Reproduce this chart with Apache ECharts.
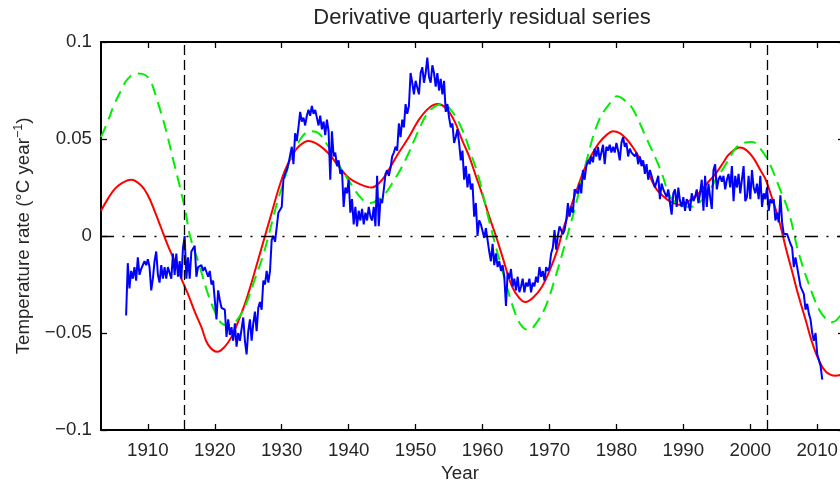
<!DOCTYPE html>
<html>
<head>
<meta charset="utf-8">
<script src="https://cdn.jsdelivr.net/npm/echarts@6/dist/echarts.min.js"></script>
<style>
  html, body { margin: 0; padding: 0; background: #fff; overflow: hidden; }
  #chart { width: 850px; height: 484px; }
</style>
</head>
<body>
<div id="chart"></div>
<script>
// Axis ticks
const xTickYears = [1910, 1920, 1930, 1940, 1950, 1960, 1970, 1980, 1990, 2000, 2010];
const yTickValues = [-0.1, -0.05, 0, 0.05, 0.1];
const yTickLabels = ['\u22120.1', '\u22120.05', '0', '0.05', '0.1'];

// Smooth model fit (red)
const fitYears = [1903, 1904, 1905, 1906, 1907.5, 1909, 1910, 1911, 1912, 1913, 1914, 1915, 1916, 1917, 1918, 1919,
  1920.4, 1921.5, 1922.5, 1923.5, 1924.5, 1925.5, 1926.5, 1927.5, 1928.5, 1929.5, 1930.5, 1931.5, 1932.5, 1934,
  1935.5, 1937, 1938.5, 1940, 1941.5, 1943.4, 1945, 1946.3, 1947.5, 1949, 1950.5, 1952, 1953.3, 1954.5, 1955.7,
  1957, 1958, 1959, 1960, 1961, 1962, 1963, 1964.4, 1965.5, 1966.4, 1967.5, 1968.9, 1970, 1971.2, 1972, 1973.1,
  1974.2, 1975.4, 1976.5, 1977.4, 1978.5, 1979.5, 1980.5, 1981.5, 1982.4, 1983.5, 1984.8, 1986, 1987.5, 1988.5,
  1989.6, 1990.8, 1992.3, 1993.5, 1994.8, 1996, 1996.8, 1998.5, 1999.5, 2000.5, 2001.5, 2002.3, 2003.3, 2004.3,
  2005.3, 2006.3, 2007.3, 2008.25, 2009.25, 2010.25, 2011.3, 2012.7, 2014];
const fitValues = [0.013, 0.019, 0.024, 0.027, 0.029, 0.026, 0.021, 0.013, 0.004, -0.005, -0.013, -0.022, -0.030, -0.039, -0.047, -0.056,
  -0.0597, -0.057, -0.052, -0.044, -0.035, -0.024, -0.012, 0.000, 0.012, 0.024, 0.034, 0.041, 0.046, 0.049,
  0.047, 0.0425, 0.036, 0.030, 0.027, 0.025, 0.029, 0.036, 0.043, 0.051, 0.060, 0.066, 0.068, 0.066, 0.060,
  0.049, 0.041, 0.031, 0.021, 0.010, 0.000, -0.011, -0.026, -0.032, -0.034, -0.032, -0.026, -0.018, -0.007, 0.003, 0.014,
  0.025, 0.036, 0.043, 0.048, 0.052, 0.054, 0.053, 0.050, 0.046, 0.040, 0.032, 0.024, 0.019, 0.017,
  0.016, 0.018, 0.022, 0.027, 0.032, 0.038, 0.042, 0.0456, 0.044, 0.040, 0.034, 0.029, 0.019, 0.008,
  -0.006, -0.019, -0.032, -0.043, -0.055, -0.064, -0.070, -0.072, -0.071];

// Alternative fit (green dashed)
const altYears = [1903, 1904, 1905, 1906, 1907, 1908.4, 1909.6, 1910.5, 1911.3, 1912.1, 1912.9, 1913.8, 1914.6, 1915.6, 1916.3,
  1917.6, 1918.8, 1920, 1921, 1921.9, 1922.8, 1923.8, 1924.8, 1925.8, 1927.3, 1929.3, 1930.3, 1931.3, 1932.8, 1934.3,
  1935.5, 1937, 1938, 1939, 1940.5, 1942, 1943.3, 1944.5, 1945.5, 1946.3, 1947.7, 1949, 1950, 1951.7, 1953, 1954,
  1955.5, 1957, 1958.2, 1959.45, 1960.9, 1962.9, 1964.9, 1966, 1966.9, 1968, 1969.4, 1970.9, 1972.65, 1974, 1975.4,
  1977.4, 1979.4, 1980.1, 1981.2, 1982.4, 1984.4, 1986.6, 1988.1, 1989.5, 1991, 1992.8, 1994, 1995, 1996, 1997.2,
  1998, 1999, 2000.3, 2001.5, 2002.8, 2004.3, 2005.8, 2007.25, 2009.25, 2010.3, 2011.25, 2012.2, 2013, 2014];
const altValues = [0.051, 0.059, 0.068, 0.075, 0.081, 0.0838, 0.083, 0.079, 0.071, 0.062, 0.052, 0.039, 0.028, 0.013, 0.000,
  -0.014, -0.028, -0.039, -0.045, -0.046, -0.045, -0.041, -0.034, -0.024, -0.009, 0.017, 0.028, 0.039, 0.050, 0.054,
  0.053, 0.046, 0.040, 0.034, 0.026, 0.019, 0.017, 0.019, 0.022, 0.026, 0.034, 0.043, 0.051, 0.063, 0.067, 0.068,
  0.064, 0.0545, 0.043, 0.030, 0.009, -0.017, -0.040, -0.047, -0.0485, -0.045, -0.0365, -0.021, 0.000, 0.017, 0.037,
  0.0597, 0.070, 0.072, 0.070, 0.0657, 0.051, 0.034, 0.020, 0.016, 0.015, 0.0185, 0.024, 0.030, 0.035, 0.042,
  0.046, 0.048, 0.0485, 0.045, 0.038, 0.0253, 0.0116, -0.009, -0.0296, -0.038, -0.0425, -0.0445, -0.043, -0.038];

// Quarterly residual derivative (blue), first quarter 1906.75
const residualStart = 1906.75;
const quarterStep = 0.25;
const residualValues = [
  -0.041, -0.014, -0.027, -0.018, -0.022, -0.016, -0.023, -0.011, -0.020, -0.017, -0.018, -0.013,
  -0.015, -0.012, -0.016, -0.028, -0.022, -0.013, -0.008, -0.020, -0.024, -0.015, -0.022, -0.016,
  -0.022, -0.016, -0.016, -0.022, -0.009, -0.020, -0.009, -0.021, -0.013, -0.022, -0.006, 0.000,
  -0.022, -0.011, -0.022, -0.008,
  -0.009, -0.005, -0.021, -0.016, -0.015, -0.015, -0.018, -0.016, -0.015, -0.021, -0.018, -0.025,
  -0.023, -0.024, -0.043, -0.028, -0.033, -0.037, -0.036, -0.038, -0.052, -0.043, -0.051, -0.047,
  -0.054, -0.045, -0.057, -0.050, -0.054, -0.055, -0.042, -0.054, -0.061, -0.049, -0.043, -0.054,
  -0.045, -0.039, -0.049, -0.037, -0.034, -0.038, -0.023, -0.025, -0.018, -0.024, -0.018, -0.002,
  0.000, -0.003, -0.002, 0.012, 0.013, 0.015, 0.029, 0.032, 0.034, 0.037, 0.036, 0.046,
  0.037, 0.053,
  0.049, 0.056, 0.064, 0.059, 0.061, 0.057, 0.062, 0.065, 0.062, 0.067, 0.063, 0.065,
  0.064, 0.057, 0.062, 0.055, 0.059, 0.052, 0.060, 0.054, 0.029, 0.054, 0.041, 0.043,
  0.036, 0.039, 0.032, 0.034, 0.015, 0.025, 0.022, 0.029, 0.012, 0.019, 0.006, 0.015,
  0.005, 0.013, 0.008, 0.014, 0.006, 0.012, 0.008, 0.015, 0.010, 0.008, 0.015, 0.005,
  0.031, 0.005, 0.019, 0.017, 0.024, 0.032, 0.034, 0.031, 0.035,
  0.041, 0.043, 0.046, 0.044, 0.058, 0.051, 0.060, 0.056, 0.068, 0.063, 0.067, 0.084,
  0.079, 0.073, 0.080, 0.079, 0.073, 0.084, 0.087, 0.079, 0.084, 0.092, 0.082, 0.079,
  0.088, 0.084, 0.077, 0.084, 0.075, 0.081, 0.073, 0.080, 0.064, 0.068, 0.061, 0.056,
  0.058, 0.048, 0.051, 0.055, 0.048, 0.039, 0.044, 0.029, 0.036, 0.025, 0.032, 0.024,
  0.027, 0.010, 0.017, 0.000, 0.008, 0.006,
  0.006, -0.001, 0.004, -0.002, -0.008, -0.013, -0.004, -0.015, -0.009, -0.016, -0.013, -0.018,
  -0.015, -0.021, -0.036, -0.019, -0.022, -0.017, -0.026, -0.022, -0.028, -0.021, -0.029, -0.026,
  -0.022, -0.029, -0.024, -0.026, -0.022, -0.029, -0.024, -0.026, -0.021, -0.024, -0.016, -0.021,
  -0.018, -0.023, -0.016, -0.018, -0.016, -0.009, -0.006, 0.003, -0.007, 0.000, 0.005, 0.005,
  0.001, 0.003,
  0.008, 0.017, 0.010, 0.015, 0.012, 0.024, 0.025, 0.022, 0.027, 0.022, 0.034, 0.029,
  0.036, 0.039, 0.037, 0.041, 0.038, 0.045, 0.041, 0.046, 0.039, 0.043, 0.047, 0.037,
  0.046, 0.044, 0.047, 0.043, 0.046, 0.043, 0.048, 0.044, 0.039, 0.048, 0.051, 0.046,
  0.048, 0.041, 0.045, 0.043, 0.044, 0.041, 0.043, 0.037, 0.041, 0.036, 0.039, 0.032,
  0.037, 0.029, 0.034, 0.031, 0.032, 0.025,
  0.024, 0.031, 0.019, 0.027, 0.024, 0.025, 0.020, 0.024, 0.017, 0.011, 0.022, 0.024,
  0.015, 0.025, 0.018, 0.015, 0.020, 0.013, 0.019, 0.017, 0.013, 0.022, 0.018, 0.020,
  0.024, 0.017, 0.022, 0.029, 0.013, 0.031, 0.015, 0.027, 0.020, 0.014, 0.034, 0.037,
  0.024, 0.029, 0.031, 0.028, 0.031, 0.024, 0.029, 0.032, 0.025, 0.036, 0.018, 0.031,
  0.025, 0.032, 0.022, 0.029, 0.036, 0.018,
  0.020, 0.031, 0.019, 0.034, 0.025, 0.022, 0.027, 0.019, 0.031, 0.015, 0.022, 0.019,
  0.025, 0.013, 0.019, 0.017, 0.019, 0.008, 0.012, 0.007, 0.021, 0.007, 0.001, 0.000,
  0.001, 0.000, -0.004, -0.006, -0.016, -0.011, -0.016, -0.021, -0.026, -0.026, -0.030, -0.038,
  -0.035, -0.040, -0.043, -0.050, -0.054, -0.050, -0.061, -0.062, -0.067, -0.074
];

// Vertical guide years
const guideYears = [1915.5, 2002.5];

const fitData = fitYears.map((y, i) => [y, fitValues[i]]);
const altData = altYears.map((y, i) => [y, altValues[i]]);
const residualData = residualValues.map((v, i) => [residualStart + i * quarterStep, v]);

const textColor = '#262626';
const fontFamily = '"Liberation Sans", Arial, Helvetica, sans-serif';
const tickFont = 18.7;

const chart = echarts.init(document.getElementById('chart'), null, { renderer: 'canvas' });

function yLabel(v) {
  const k = Math.round((v + 0.1) / 0.05);
  return yTickLabels[k] !== undefined ? yTickLabels[k] : '';
}

const axisLineStyle = { color: '#000', width: 2 };
const tickStyle = { color: '#000', width: 1.3 };

chart.setOption({
  animation: false,
  backgroundColor: '#fff',
  textStyle: { fontFamily: fontFamily },
  grid: { left: 101, top: 42, width: 743, height: 388, containLabel: false },
  graphic: [
    {
      type: 'text', x: 482, y: 18,
      style: {
        text: 'Derivative quarterly residual series',
        fill: textColor, font: '22px ' + fontFamily,
        textAlign: 'center', textVerticalAlign: 'middle'
      }
    },
    {
      type: 'text', x: 460, y: 474,
      style: {
        text: 'Year', fill: textColor, font: tickFont + 'px ' + fontFamily,
        textAlign: 'center', textVerticalAlign: 'middle'
      }
    }
  ],
  xAxis: [
    {
      type: 'value', position: 'bottom', min: 1903, max: 2014,
      splitLine: { show: false },
      axisLine: { show: true, onZero: false, lineStyle: axisLineStyle },
      axisTick: { show: true, inside: true, length: 6, lineStyle: tickStyle, customValues: xTickYears },
      axisLabel: {
        show: true, margin: 11, color: textColor, fontSize: tickFont, fontFamily: fontFamily,
        customValues: xTickYears, formatter: v => String(v)
      }
    },
    {
      type: 'value', position: 'top', min: 1903, max: 2014,
      splitLine: { show: false },
      axisLine: { show: true, onZero: false, lineStyle: axisLineStyle },
      axisTick: { show: true, inside: true, length: 6, lineStyle: tickStyle, customValues: xTickYears },
      axisLabel: { show: false }
    }
  ],
  yAxis: [
    {
      type: 'value', position: 'left', min: -0.1, max: 0.1, interval: 0.05,
      splitLine: { show: false },
      axisLine: { show: true, onZero: false, lineStyle: axisLineStyle },
      axisTick: { show: true, inside: true, length: 6, lineStyle: tickStyle },
      axisLabel: { margin: 9, color: textColor, fontSize: tickFont, fontFamily: fontFamily, formatter: yLabel },
      name: '{t|Temperature rate (\u00B0C year}{s|\u22121}{t|)}',
      nameLocation: 'middle', nameGap: 64, nameRotate: 90,
      nameTextStyle: {
        rich: {
          t: { fontSize: tickFont, fontFamily: fontFamily, color: textColor, lineHeight: 24 },
          s: { fontSize: 12.5, fontFamily: fontFamily, color: textColor, lineHeight: 24, verticalAlign: 'top' }
        }
      }
    },
    {
      type: 'value', position: 'right', min: -0.1, max: 0.1, interval: 0.05,
      splitLine: { show: false },
      axisLine: { show: true, onZero: false, lineStyle: axisLineStyle },
      axisTick: { show: true, inside: true, length: 6, lineStyle: tickStyle },
      axisLabel: { show: false }
    }
  ],
  series: [
    {
      name: 'fit', type: 'line', data: fitData, showSymbol: false, smooth: 0.4, clip: true,
      lineStyle: { color: '#ff0000', width: 2 }, z: 2
    },
    {
      name: 'alt', type: 'line', data: altData, showSymbol: false, smooth: 0.4, clip: true,
      lineStyle: { color: '#00ee00', width: 2, type: [12, 7] }, z: 3
    },
    {
      name: 'residual', type: 'line', data: residualData, showSymbol: false, clip: true,
      lineStyle: { color: '#0000ff', width: 2 }, z: 4
    },
    {
      name: 'guides', type: 'line', data: [], z: 5,
      markLine: {
        silent: true, symbol: ['none', 'none'], label: { show: false }, animation: false,
        data: guideYears.map(y => ({ xAxis: y, lineStyle: { color: '#000', width: 1.3, type: [10, 5] } }))
          .concat([{ yAxis: 0, lineStyle: { color: '#000', width: 1.3, type: [13, 8.5, 2, 8.5] } }])
      }
    }
  ]
});
</script>
</body>
</html>
